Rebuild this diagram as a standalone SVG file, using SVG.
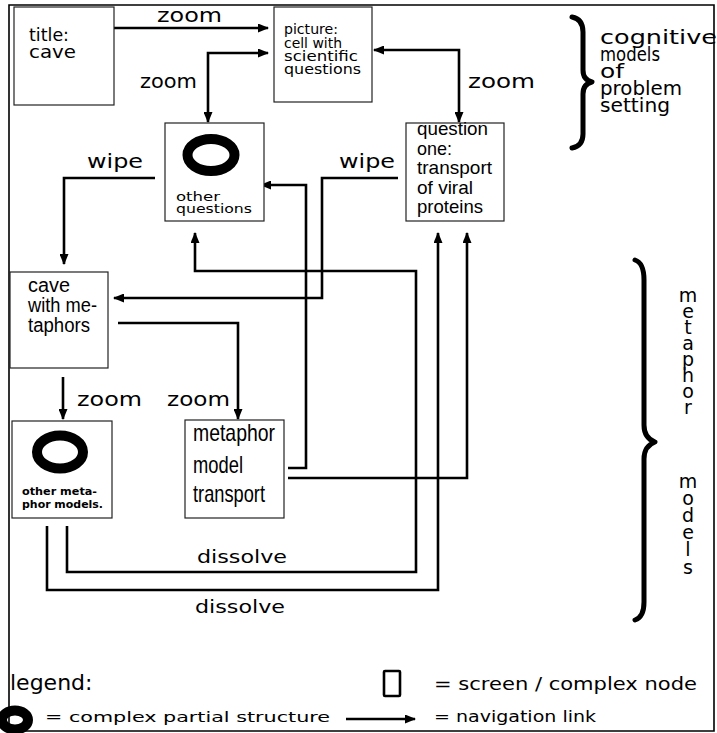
<svg xmlns="http://www.w3.org/2000/svg" width="717" height="733" viewBox="0 0 717 733">
<defs>
<style>
.box{fill:#fff;stroke:#222;stroke-width:1.2}
.g{font-family:"DejaVu Sans",sans-serif;fill:#000}
.c{font-family:"Liberation Sans",Arial,sans-serif;fill:#000}
.lnk{fill:none;stroke:#000;stroke-width:2.6}
.ring{fill:none;stroke:#000}
.brace{fill:none;stroke:#000;stroke-width:5;stroke-linecap:round;stroke-linejoin:round}
</style>
<marker id="ah" markerUnits="userSpaceOnUse" markerWidth="11" markerHeight="9" refX="10" refY="4.5" orient="auto-start-reverse">
<path d="M0,0 L11,4.5 L0,9 z" fill="#000"/>
</marker>
</defs>
<rect x="0" y="0" width="717" height="733" fill="#fff"/>
<path d="M9,5 H714 V731 H9 Z" fill="none" stroke="#000" stroke-width="1.6"/>

<g id="connectors">
<path class="lnk" d="M114,28 H268" marker-end="url(#ah)"/>
<path class="lnk" d="M268,53 H208 V122" marker-start="url(#ah)" marker-end="url(#ah)"/>
<path class="lnk" d="M374,50 H459 V122" marker-start="url(#ah)" marker-end="url(#ah)"/>
<path class="lnk" d="M155,178 H64 V264" marker-end="url(#ah)"/>
<path class="lnk" d="M398,178 H322 V298 H114" marker-end="url(#ah)"/>
<path class="lnk" d="M288,468 H306 V185 H261" marker-end="url(#ah)"/>
<path class="lnk" d="M288,478 H467 V233" marker-end="url(#ah)"/>
<path class="lnk" d="M67,526 V572 H416 V271 H195 V233" marker-end="url(#ah)"/>
<path class="lnk" d="M47,526 V590 H438 V233" marker-end="url(#ah)"/>
<path class="lnk" d="M118,323 H238 V419" marker-end="url(#ah)"/>
<path class="lnk" d="M63,377 V419" marker-end="url(#ah)"/>
</g>

<g id="link-labels" class="g" font-size="19">
<text x="157" y="22" textLength="65" lengthAdjust="spacingAndGlyphs">zoom</text>
<text x="140" y="88" textLength="57" lengthAdjust="spacingAndGlyphs">zoom</text>
<text x="468" y="88" textLength="67" lengthAdjust="spacingAndGlyphs">zoom</text>
<text x="87" y="168" textLength="56" lengthAdjust="spacingAndGlyphs">wipe</text>
<text x="339" y="168" textLength="56" lengthAdjust="spacingAndGlyphs">wipe</text>
<text x="77" y="406" textLength="65" lengthAdjust="spacingAndGlyphs">zoom</text>
<text x="167" y="406" textLength="63" lengthAdjust="spacingAndGlyphs">zoom</text>
<text x="197" y="563" font-size="18" textLength="90" lengthAdjust="spacingAndGlyphs">dissolve</text>
<text x="195" y="613" font-size="18" textLength="90" lengthAdjust="spacingAndGlyphs">dissolve</text>
</g>

<g id="n-title">
<rect class="box" x="14" y="7" width="100" height="98"/>
<text class="g" font-size="17"><tspan x="29" y="41" textLength="40" lengthAdjust="spacingAndGlyphs">title:</tspan><tspan x="29" y="58" textLength="47" lengthAdjust="spacingAndGlyphs">cave</tspan></text>
</g>

<g id="n-picture">
<rect class="box" x="274" y="7" width="98" height="95"/>
<text class="g" font-size="14"><tspan x="284" y="34" textLength="54" lengthAdjust="spacingAndGlyphs">picture:</tspan><tspan x="284" y="48" textLength="58" lengthAdjust="spacingAndGlyphs">cell with</tspan><tspan x="284" y="61" textLength="74" lengthAdjust="spacingAndGlyphs">scientific</tspan><tspan x="284" y="74" textLength="77" lengthAdjust="spacingAndGlyphs">questions</tspan></text>
</g>

<g id="n-other-questions">
<rect class="box" x="165" y="123" width="99" height="98"/>
<ellipse class="ring" cx="211" cy="155" rx="23.5" ry="16" stroke-width="10"/>
<text class="g" font-size="13"><tspan x="176" y="201" textLength="44" lengthAdjust="spacingAndGlyphs">other</tspan><tspan x="176" y="213" textLength="76" lengthAdjust="spacingAndGlyphs">questions</tspan></text>
</g>

<g id="n-question-one">
<rect class="box" x="406" y="123" width="98" height="98"/>
<text class="c" font-size="19"><tspan x="417" y="135" textLength="71" lengthAdjust="spacingAndGlyphs">question</tspan><tspan x="417" y="155" textLength="35" lengthAdjust="spacingAndGlyphs">one:</tspan><tspan x="417" y="174" textLength="75" lengthAdjust="spacingAndGlyphs">transport</tspan><tspan x="417" y="194" textLength="56" lengthAdjust="spacingAndGlyphs">of viral</tspan><tspan x="417" y="213" textLength="66" lengthAdjust="spacingAndGlyphs">proteins</tspan></text>
</g>

<g id="n-cave-metaphors">
<rect class="box" x="10" y="272" width="98" height="96"/>
<text class="c" font-size="20"><tspan x="28" y="292" textLength="42" lengthAdjust="spacingAndGlyphs">cave</tspan><tspan x="28" y="312" textLength="69" lengthAdjust="spacingAndGlyphs">with me-</tspan><tspan x="28" y="332" textLength="62" lengthAdjust="spacingAndGlyphs">taphors</tspan></text>
</g>

<g id="n-other-metaphor-models">
<rect class="box" x="12" y="421" width="100" height="97"/>
<ellipse class="ring" cx="60" cy="452" rx="23" ry="16.5" stroke-width="10"/>
<text class="g" font-size="11" font-weight="bold"><tspan x="22" y="495" textLength="75" lengthAdjust="spacingAndGlyphs">other meta-</tspan><tspan x="22" y="508" textLength="81" lengthAdjust="spacingAndGlyphs">phor models.</tspan></text>
</g>

<g id="n-metaphor-transport">
<rect class="box" x="185" y="420" width="99" height="98"/>
<text class="c" font-size="24"><tspan x="193" y="441" textLength="82" lengthAdjust="spacingAndGlyphs">metaphor</tspan><tspan x="193" y="473" textLength="50" lengthAdjust="spacingAndGlyphs">model</tspan><tspan x="193" y="502" textLength="72" lengthAdjust="spacingAndGlyphs">transport</tspan></text>
</g>

<g id="group-cognitive">
<path class="brace" d="M572,17 Q583,19 583,32 V70 Q583,80 592,82 Q583,84 583,94 V134 Q583,146 572,148"/>
<text class="g" font-size="20"><tspan x="600" y="44" textLength="117" lengthAdjust="spacingAndGlyphs">cognitive</tspan><tspan x="600" y="61" textLength="60" lengthAdjust="spacingAndGlyphs">models</tspan><tspan x="600" y="78" textLength="24" lengthAdjust="spacingAndGlyphs">of</tspan><tspan x="600" y="95" textLength="82" lengthAdjust="spacingAndGlyphs">problem</tspan><tspan x="600" y="112" textLength="70" lengthAdjust="spacingAndGlyphs">setting</tspan></text>
</g>

<g id="group-metaphor">
<path class="brace" d="M635,260 Q644,263 644,280 V425 Q644,438 655,442 Q644,446 644,459 V602 Q644,617 635,620"/>
<text class="g" font-size="19" text-anchor="middle"><tspan x="688" y="302">m</tspan><tspan x="688" y="318">e</tspan><tspan x="688" y="334">t</tspan><tspan x="688" y="350">a</tspan><tspan x="688" y="366">p</tspan><tspan x="688" y="382">h</tspan><tspan x="688" y="398">o</tspan><tspan x="688" y="414">r</tspan><tspan x="688" y="488">m</tspan><tspan x="688" y="505">o</tspan><tspan x="688" y="522">d</tspan><tspan x="688" y="539">e</tspan><tspan x="688" y="556">l</tspan><tspan x="688" y="574">s</tspan></text>
</g>

<g id="legend">
<text class="g" font-size="22" x="10" y="690">legend:</text>
<rect x="384" y="671" width="16" height="25" rx="1" fill="none" stroke="#000" stroke-width="2.6"/>
<text class="g" font-size="17" x="434" y="690" textLength="263" lengthAdjust="spacingAndGlyphs">= screen / complex node</text>
<ellipse class="ring" cx="15" cy="720" rx="13" ry="9.5" stroke-width="10"/>
<text class="g" font-size="14" x="45" y="722" textLength="285" lengthAdjust="spacingAndGlyphs">= complex partial structure</text>
<path class="lnk" d="M346,719 H415" marker-end="url(#ah)"/>
<text class="g" font-size="16" x="434" y="722" textLength="162" lengthAdjust="spacingAndGlyphs">= navigation link</text>
</g>
</svg>
